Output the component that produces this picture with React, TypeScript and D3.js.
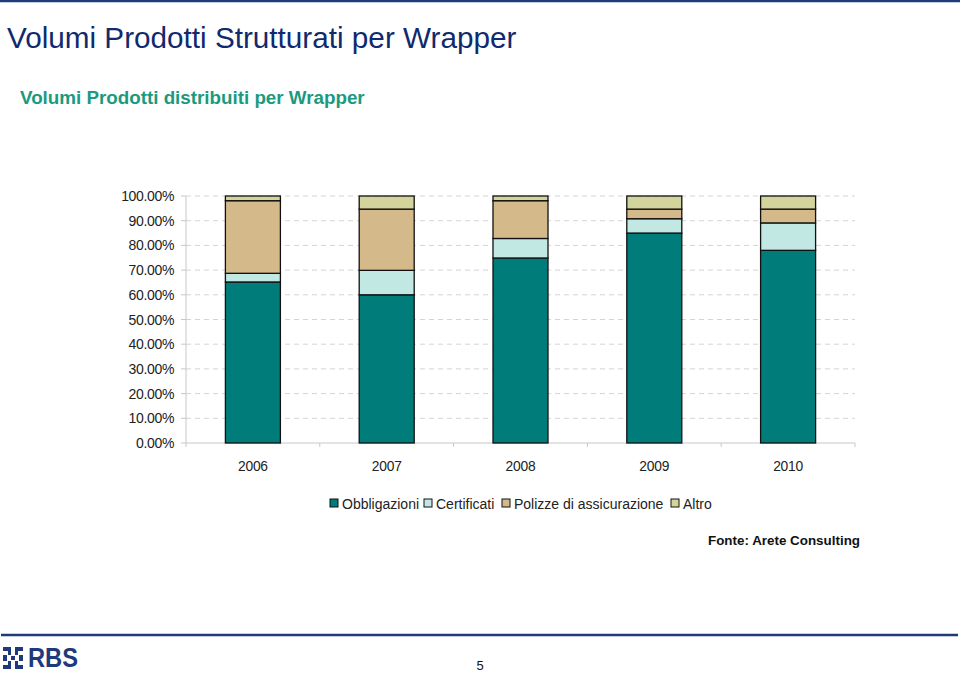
import React from "react";
import * as d3 from "d3";

const years = ["2006", "2007", "2008", "2009", "2010"];
const seriesNames = ["Obbligazioni", "Certificati", "Polizze di assicurazione", "Altro"];
const obbligazioni = [65.2, 60.0, 74.9, 85.0, 78.0];
const certificati = [3.5, 9.9, 7.9, 5.8, 11.1];
const polizze = [29.4, 24.8, 15.3, 3.9, 5.6];
const altro = [1.9, 5.3, 1.9, 5.3, 5.3];
const yTicks = [0, 10, 20, 30, 40, 50, 60, 70, 80, 90, 100];
const colors = ["#007d7b", "#c2e8e4", "#d4b98a", "#d2d49c"];

const W = 960, H = 673;
const left = 186, right = 855, top = 196, bottom = 443;

export default function App() {
  const x = d3.scaleBand<string>().domain(years).range([left, right]).paddingInner(0).paddingOuter(0);
  const y = d3.scaleLinear().domain([0, 100]).range([bottom, top]);
  const rows = years.map((yr, i) => ({
    year: yr,
    Obbligazioni: obbligazioni[i],
    Certificati: certificati[i],
    "Polizze di assicurazione": polizze[i],
    Altro: altro[i],
  }));
  const stack = d3.stack<any>().keys(seriesNames);
  const layers = stack(rows);
  const barW = 55;
  const font = "'Liberation Sans', Arial, sans-serif";
  const fmt = (v: number) => v.toFixed(2) + "%";

  const legendItems = [
    { x: 330, tx: 342 },
    { x: 424, tx: 436 },
    { x: 502, tx: 514 },
    { x: 671, tx: 683 },
  ];

  return (
    <svg width={W} height={H} style={{ position: "absolute", left: 0, top: 0, background: "#fff" }} fontFamily={font}>
      <rect x={0} y={0} width={W} height={H} fill="#fff" />
      <line x1={0} x2={W} y1={1} y2={1} stroke="#1f3a7a" strokeWidth={2.5} />
      <text x={7} y={48} fontSize={29.7} fill="#0f2a6e">Volumi Prodotti Strutturati per Wrapper</text>
      <text x={20} y={104} fontSize={18.8} fontWeight="bold" fill="#1b9a80">Volumi Prodotti distribuiti per Wrapper</text>

      {/* gridlines */}
      {yTicks.map((t) => (
        <g key={t}>
          {t > 0 && (
            <line x1={left} x2={right} y1={y(t)} y2={y(t)} stroke="#d4d4d4" strokeWidth={1} strokeDasharray="5,4" />
          )}
          <line x1={left - 5} x2={left} y1={y(t)} y2={y(t)} stroke="#c8c8c8" strokeWidth={1} />
          <text x={174} y={y(t) + 5} fontSize={14} letterSpacing={-0.35} textAnchor="end" fill="#222">{fmt(t)}</text>
        </g>
      ))}
      <line x1={left} x2={left} y1={top} y2={bottom} stroke="#c8c8c8" strokeWidth={1} />
      <line x1={left} x2={right} y1={bottom} y2={bottom} stroke="#c8c8c8" strokeWidth={1} />
      {years.map((yr) => (
        <line key={"tk" + yr} x1={x(yr) as number} x2={x(yr) as number} y1={bottom} y2={bottom + 4} stroke="#c8c8c8" />
      ))}
      <line x1={right} x2={right} y1={bottom} y2={bottom + 4} stroke="#c8c8c8" />

      {/* bars */}
      {layers.map((layer, li) => (
        <g key={layer.key}>
          {layer.map((d, i) => {
            const cx = (x(years[i]) as number) + x.bandwidth() / 2;
            return (
              <rect
                key={i}
                x={cx - barW / 2}
                y={y(d[1])}
                width={barW}
                height={y(d[0]) - y(d[1])}
                fill={colors[li]}
                stroke="#111"
                strokeWidth={1.3}
              />
            );
          })}
        </g>
      ))}

      {years.map((yr) => (
        <text key={yr} x={(x(yr) as number) + x.bandwidth() / 2} y={471} fontSize={13.8} letterSpacing={-0.2} textAnchor="middle" fill="#222">{yr}</text>
      ))}

      {/* legend */}
      {seriesNames.map((s, i) => (
        <g key={s}>
          <rect x={legendItems[i].x} y={499} width={8} height={8} fill={colors[i]} stroke="#111" strokeWidth={1} />
          <text x={legendItems[i].tx} y={509} fontSize={14} fill="#222">{s}</text>
        </g>
      ))}

      <text x={860} y={545} fontSize={13.4} fontWeight="bold" textAnchor="end" fill="#111">Fonte: Arete Consulting</text>

      {/* footer */}
      <line x1={1} x2={958} y1={635} y2={635} stroke="#1f3a7a" strokeWidth={2.5} />
      <g fill="#1f3a7a">
        <rect x={3} y={647} width={8} height={4} />
        <rect x={15} y={647} width={8} height={4} />
        <rect x={3} y={665} width={8} height={4} />
        <rect x={15} y={665} width={8} height={4} />
        <rect x={3} y={655} width={4} height={6} />
        <rect x={19} y={655} width={4} height={6} />
        <rect x={8} y={651} width={3} height={4} />
        <rect x={15} y={651} width={3} height={4} />
        <rect x={8} y={661} width={3} height={4} />
        <rect x={15} y={661} width={3} height={4} />
        <rect x={11} y={656} width={4} height={4} />
      </g>
      <text x={28} y={667} fontSize={27} fontWeight="bold" fill="#1f3a7a" textLength={50} lengthAdjust="spacingAndGlyphs">RBS</text>
      <text x={480} y={670} fontSize={13} fill="#111" textAnchor="middle">5</text>
    </svg>
  );
}
